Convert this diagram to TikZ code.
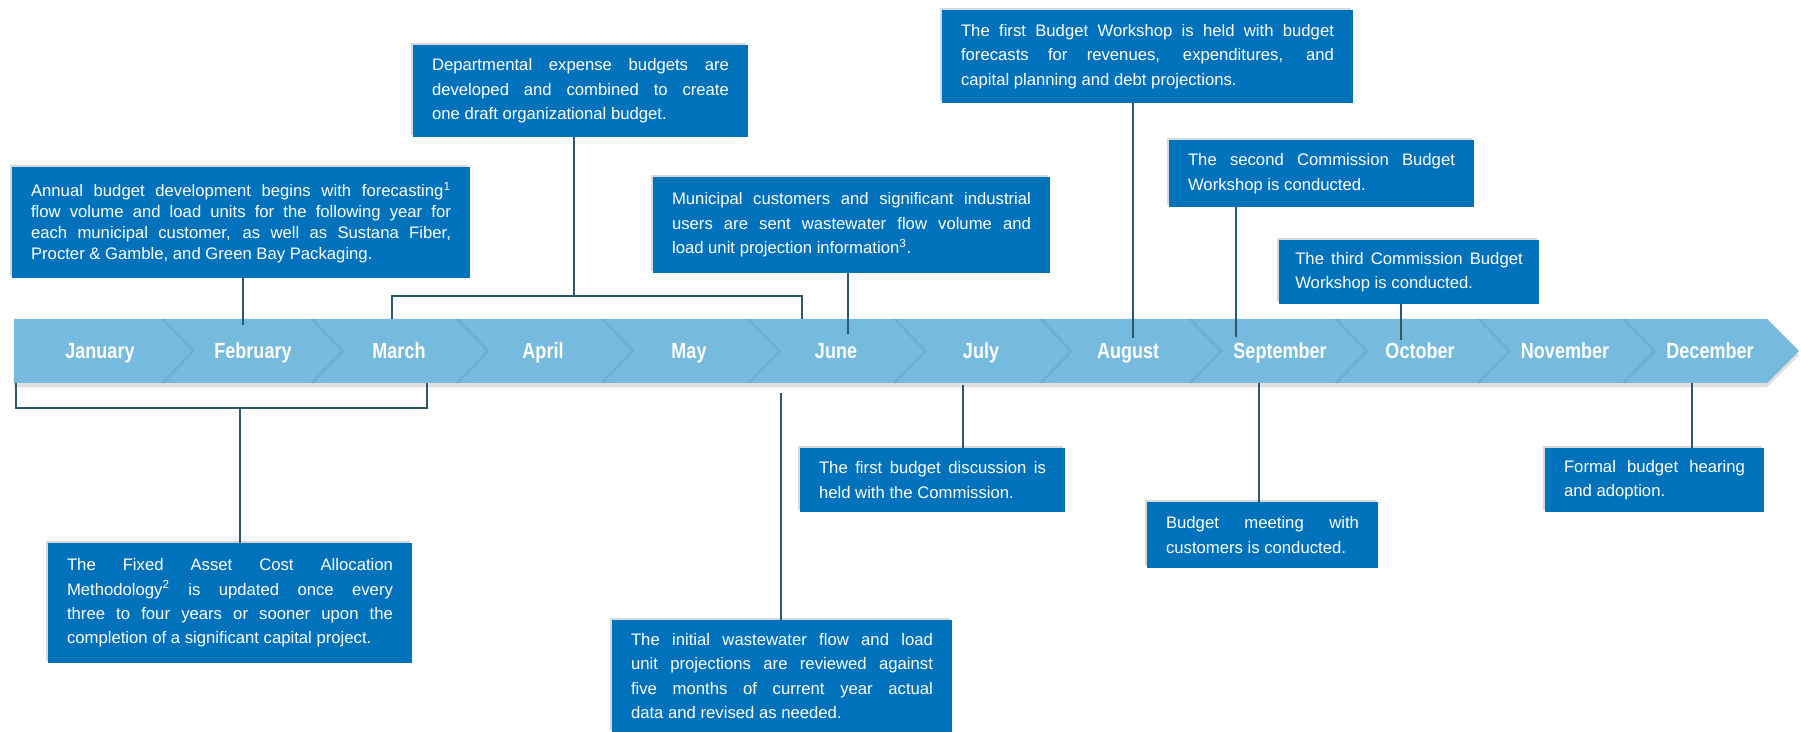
\documentclass[tikz,border=0pt]{standalone}
\usepackage{fontspec}
\setmainfont{Liberation Sans}
\newfontfamily\monthfont[FakeStretch=0.82]{Liberation Sans}
\usepackage{xcolor}
\usepackage{tikz}
\usetikzlibrary{shadows}

\definecolor{boxblue}{RGB}{0,114,188}
\definecolor{bandblue}{RGB}{118,186,222}
\definecolor{linkgray}{RGB}{45,88,108}

\begin{document}
\begin{tikzpicture}[
    x=0.02cm, y=-0.02cm,
    event/.style={rectangle, fill=boxblue, text=white, align=justify, inner xsep=0.38cm, inner ysep=0pt, font=\fontsize{9.5}{13.9}\selectfont, drop shadow={shadow xshift=-1.2pt, shadow yshift=1.2pt, opacity=0.3}},
    month/.style={text=white, anchor=base, inner sep=0pt, font=\monthfont\fontsize{12.5}{14}\selectfont\bfseries},
    link/.style={draw=linkgray, line width=0.6pt},
    chev/.style={draw=bandblue!70!black, line width=1.3pt, opacity=0.2, line join=round}
]
    \path[use as bounding box, fill=white] (0,0) rectangle (1801,732);

    % timeline band
    \fill[bandblue, drop shadow={shadow xshift=0pt, shadow yshift=-2.5pt, opacity=0.25}] (14,319) -- (1767,319) -- (1799,351) -- (1767,383) -- (14,383) -- cycle;
    \draw[chev] (162.5,319) -- (193.5,351) -- (162.5,383)
        (312,319) -- (343,351) -- (312,383)
        (457,319) -- (488,351) -- (457,383)
        (602,319) -- (633,351) -- (602,383)
        (748.5,319) -- (779.5,351) -- (748.5,383)
        (894.5,319) -- (925.5,351) -- (894.5,383)
        (1040.5,319) -- (1071.5,351) -- (1040.5,383)
        (1190,319) -- (1221,351) -- (1190,383)
        (1336,319) -- (1367,351) -- (1336,383)
        (1478.5,319) -- (1509.5,351) -- (1478.5,383)
        (1623.5,319) -- (1654.5,351) -- (1623.5,383);
    \coordinate (bandtop) at (0,319);
    \coordinate (bandbot) at (0,383);

    \node[month] (jan) at (100,359) {January};
    \node[month] (feb) at (253,359) {February};
    \node[month] (mar) at (399,359) {March};
    \node[month] (apr) at (543,359) {April};
    \node[month] (may) at (689,359) {May};
    \node[month] (jun) at (836,359) {June};
    \node[month] (jul) at (981,359) {July};
    \node[month] (aug) at (1128,359) {August};
    \node[month] (sep) at (1280,359) {September};
    \node[month] (oct) at (1420,359) {October};
    \node[month] (nov) at (1565,359) {November};
    \node[month] (dec) at (1710,359) {December};

    % events above the band
    \node[event, text width=8.4cm, minimum height=2.22cm, font=\fontsize{9.5}{11.9}\selectfont] (forecast) at (241,222.5) {Annual budget development begins with forecasting\textsuperscript{1}\linebreak flow volume and load units for the following year for\linebreak each municipal customer, as well as Sustana Fiber,\linebreak Procter \& Gamble, and Green Bay Packaging.};
    \node[event, text width=5.94cm, minimum height=1.84cm] (deptbudget) at (580.5,91) {Departmental expense budgets are\linebreak developed and combined to create\linebreak one draft organizational budget.};
    \node[event, text width=7.18cm, minimum height=1.92cm] (projinfo) at (851.5,225) {Municipal customers and significant industrial\linebreak users are sent wastewater flow volume and\linebreak load unit projection information\textsuperscript{3}.};
    \node[event, text width=7.46cm, minimum height=1.86cm] (workshop1) at (1147.5,56.5) {The first Budget Workshop is held with budget\linebreak forecasts for revenues, expenditures, and\linebreak capital planning and debt projections.};
    \node[event, text width=5.34cm, minimum height=1.34cm] (workshop2) at (1321.5,173.5) {The second Commission Budget\linebreak Workshop is conducted.};
    \node[event, text width=4.55cm, inner xsep=0.33cm, minimum height=1.28cm] (workshop3) at (1409,272) {The third Commission Budget\linebreak Workshop is conducted.};

    % events below the band
    \node[event, text width=6.52cm, minimum height=2.4cm] (fixedasset) at (230,603) {The Fixed Asset Cost Allocation\linebreak Methodology\textsuperscript{2} is updated once every\linebreak three to four years or sooner upon the\linebreak completion of a significant capital project.};
    \node[event, text width=6.04cm, minimum height=2.24cm] (review) at (782,676) {The initial wastewater flow and load\linebreak unit projections are reviewed against\linebreak five months of current year actual\linebreak data and revised as needed.};
    \node[event, text width=4.54cm, minimum height=1.28cm] (discussion) at (932.5,480) {The first budget discussion is\linebreak held with the Commission.};
    \node[event, text width=3.86cm, minimum height=1.32cm] (custmeet) at (1262.5,535) {Budget meeting with\linebreak customers is conducted.};
    \node[event, text width=3.62cm, minimum height=1.28cm] (adoption) at (1654.5,480) {Formal budget hearing\linebreak and adoption.};

    % connector ends
    \coordinate (febtop) at (243,325);
    \coordinate (marbr) at (392,296);
    \coordinate (junbr) at (802,296);
    \coordinate (deptlink) at (574,296);
    \coordinate (juntop) at (848,334);
    \coordinate (augtop) at (1133,338);
    \coordinate (septop) at (1236,337);
    \coordinate (octtop) at (1401,340);
    \coordinate (janbr) at (16,408);
    \coordinate (marbr2) at (427,408);
    \coordinate (fixlink) at (240,408);
    \coordinate (junbot) at (781,393);
    \coordinate (julbot) at (963,385);
    \coordinate (sepbot) at (1259,383);
    \coordinate (decbot) at (1692,383);

    \draw[link] (forecast.south -| febtop) -- (febtop);
    \draw[link] (marbr |- bandtop) -- (marbr) -- (junbr) -- (junbr |- bandtop);
    \draw[link] (deptbudget.south -| deptlink) -- (deptlink);
    \draw[link] (projinfo.south -| juntop) -- (juntop);
    \draw[link] (workshop1.south -| augtop) -- (augtop);
    \draw[link] (workshop2.south -| septop) -- (septop);
    \draw[link] (workshop3.south -| octtop) -- (octtop);
    \draw[link] (janbr |- bandbot) -- (janbr) -- (marbr2) -- (marbr2 |- bandbot);
    \draw[link] (fixlink) -- (fixedasset.north -| fixlink);
    \draw[link] (junbot) -- (review.north -| junbot);
    \draw[link] (julbot) -- (discussion.north -| julbot);
    \draw[link] (sepbot) -- (custmeet.north -| sepbot);
    \draw[link] (decbot) -- (adoption.north -| decbot);
\end{tikzpicture}
\end{document}
